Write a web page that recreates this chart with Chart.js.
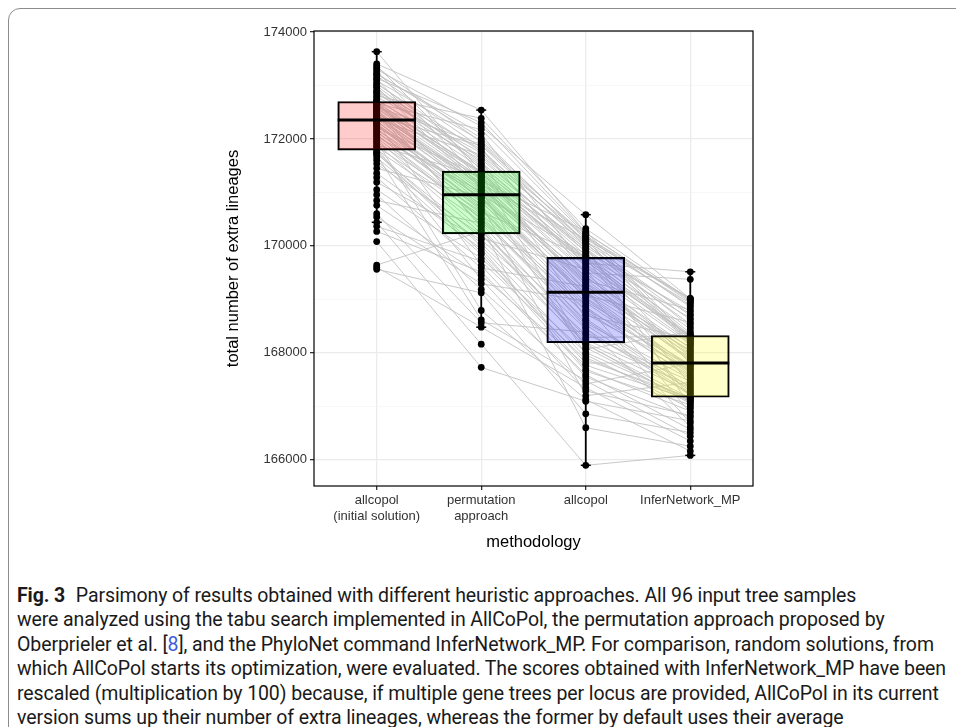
<!DOCTYPE html>
<html>
<head>
<meta charset="utf-8">
<script src="https://cdn.jsdelivr.net/npm/chart.js@4.4.1/dist/chart.umd.min.js"></script>
<style>
  html, body { margin: 0; padding: 0; background: #fff; }
  body { width: 956px; height: 727px; position: relative; overflow: hidden; }
  #frame { position: absolute; left: 8px; top: 8px; width: 1000px; height: 800px;
           border: 1px solid #8c8c8c; border-radius: 12px; box-sizing: border-box; }
  #plot { position: absolute; left: 0; top: 0; }
  #caption { position: absolute; left: 17px; top: 584px; font-family: Roboto, 'Noto Sans', sans-serif;
             font-size: 19.5px; line-height: 24.4px; color: #1a1a1a; white-space: nowrap; letter-spacing: -0.1px; }
  #caption b { font-weight: 700; margin-right: 6px; }
  #caption .ref { color: #3b5bdb; }
</style>
</head>
<body>
<div id="frame"></div>
<canvas id="plot" width="956" height="560"></canvas>
<div id="caption">
  <div><b>Fig. 3</b> Parsimony of results obtained with different heuristic approaches. All 96 input tree samples</div>
  <div>were analyzed using the tabu search implemented in AllCoPol, the permutation approach proposed by</div>
  <div>Oberprieler et al. [<span class="ref">8</span>], and the PhyloNet command InferNetwork_MP. For comparison, random solutions, from</div>
  <div>which AllCoPol starts its optimization, were evaluated. The scores obtained with InferNetwork_MP have been</div>
  <div>rescaled (multiplication by 100) because, if multiple gene trees per locus are provided, AllCoPol in its current</div>
  <div>version sums up their number of extra lineages, whereas the former by default uses their average</div>
</div>
<script>
'use strict';
// one entry per input tree sample (96), same order in every array
const categories = [['allcopol', '(initial solution)'], ['permutation', 'approach'], 'allcopol', 'InferNetwork_MP'];

const initialSolution = [
  169560, 169600, 169640, 170080, 170270, 170365, 170440, 170540, 170602, 170757, 170850, 170956,
  171050, 171191, 171280, 171359, 171450, 171534, 171600, 171650, 171700, 171720, 171740, 171760,
  171800, 171830, 171855, 171885, 171910, 171945, 171960, 171990, 172025, 172040, 172075, 172090,
  172125, 172140, 172170, 172195, 172210, 172245, 172260, 172280, 172295, 172315, 172330, 172340,
  172368, 172375, 172395, 172415, 172420, 172445, 172455, 172475, 172490, 172500, 172525, 172530,
  172555, 172570, 172580, 172600, 172615, 172630, 172645, 172650, 172665, 172680, 172690, 172695,
  172720, 172745, 172790, 172805, 172850, 172880, 172895, 172940, 172975, 172990, 173030, 173045,
  173090, 173120, 173135, 173180, 173210, 173225, 173270, 173300, 173340, 173370, 173405, 173633
];
const permutationApproach = [
  169120, 168477, 170275, 167725, 169510, 169710, 168160, 169290, 168560, 169445, 170425, 169185,
  169765, 170115, 169585, 169945, 170925, 170205, 169840, 170045, 168615, 170145, 169885, 169995,
  170450, 169370, 170565, 171290, 170230, 170635, 168790, 170305, 170520, 171015, 170595, 170495,
  170775, 170695, 170910, 170660, 171300, 170945, 170755, 170880, 170715, 169630, 170810, 170865,
  171695, 170985, 171145, 170967, 171875, 171025, 171185, 170385, 171135, 171060, 171175, 171100,
  170350, 171225, 171365, 171895, 171335, 171265, 171390, 171255, 172175, 171385, 170825, 171360,
  171605, 171455, 171740, 172385, 171670, 171525, 171805, 171485, 171065, 171555, 171765, 171625,
  171965, 171105, 172305, 171835, 172095, 172015, 171215, 172235, 171940, 171415, 172540, 171325
];
const allcopol = [
  166855, 167345, 168445, 167090, 167590, 167865, 165892, 168965, 168385, 167765, 168285, 167415,
  168005, 168345, 169235, 167695, 169035, 168245, 167655, 168170, 167475, 169555, 167805, 167905,
  168725, 167285, 168475, 169755, 168095, 169795, 167125, 168190, 168605, 169355, 168805, 168525,
  167195, 168555, 168935, 168855, 169615, 169845, 168775, 169175, 168695, 167545, 169120, 169075,
  170085, 169095, 170125, 169015, 170075, 167965, 169375, 166595, 169255, 169435, 169315, 169295,
  168145, 169495, 169675, 170195, 169725, 169535, 169778, 169715, 170205, 169140, 168885, 169655,
  168635, 169760, 170030, 170322, 169885, 169825, 169995, 169895, 169195, 169985, 170165, 169935,
  170155, 169415, 170235, 169475, 169595, 170115, 170275, 170583, 170045, 169950, 170245, 168065
];
const inferNetworkMP = [
  166505, 166345, 167205, 166725, 166565, 167158, 166078, 167775, 167325, 167125, 168308, 167800,
  167130, 167465, 168105, 166905, 167705, 167385, 167025, 167045, 166438, 167168, 167812, 167085,
  167685, 166825, 166615, 168312, 167095, 168445, 166158, 167265, 167285, 168805, 167765, 167225,
  167445, 167505, 167625, 167525, 168318, 168330, 167565, 168045, 168265, 166785, 167735, 168565,
  168925, 167645, 169005, 167585, 168695, 166955, 167865, 166250, 167965, 167925, 168025, 167845,
  167150, 169372, 169514, 168855, 168225, 168155, 168290, 168295, 168185, 167905, 166685, 168270,
  167345, 167405, 168615, 168990, 167795, 168645, 166985, 168775, 166875, 168725, 169018, 168365,
  168885, 168085, 168975, 167985, 168195, 168145, 168235, 169010, 168485, 168535, 168945, 168390
];

const yTickLabels = [166000, 168000, 170000, 172000, 174000];
const yGridValues = [166000, 167000, 168000, 169000, 170000, 171000, 172000, 173000, 174000];

const columns = [initialSolution, permutationApproach, allcopol, inferNetworkMP];
const boxFills = ['rgba(255,0,0,0.2)', 'rgba(0,255,0,0.2)', 'rgba(0,0,255,0.2)', 'rgba(255,255,0,0.2)'];
const tickFont = { family: "'Liberation Sans', Arial, sans-serif", size: 13 };
const titleFont = { family: "'Liberation Sans', Arial, sans-serif", size: 16.5 };

function quantile(sorted, p) {
  const h = (sorted.length - 1) * p;
  const lo = Math.floor(h);
  const hi = Math.min(lo + 1, sorted.length - 1);
  return sorted[lo] + (h - lo) * (sorted[hi] - sorted[lo]);
}

const stats = columns.map(col => {
  const s = [...col].sort((a, b) => a - b);
  const q1 = quantile(s, 0.25), med = quantile(s, 0.5), q3 = quantile(s, 0.75);
  const iqr = q3 - q1;
  const lo = s.find(v => v >= q1 - 1.5 * iqr);
  const hi = [...s].reverse().find(v => v <= q3 + 1.5 * iqr);
  return { q1, med, q3, lo, hi };
});

const pairLines = initialSolution.map((v, i) => ({
  type: 'line',
  data: columns.map((col, c) => ({ x: c + 1, y: col[i] })),
  borderColor: '#c2c2c2',
  borderWidth: 0.9,
  pointRadius: 0,
  order: 3,
}));

const pointSet = {
  type: 'line',
  showLine: false,
  data: columns.flatMap((col, c) => col.map(v => ({ x: c + 1, y: v }))),
  pointRadius: 3.4,
  pointBackgroundColor: '#000',
  pointBorderColor: '#000',
  pointBorderWidth: 0,
  order: 2,
};

const boxSet = {
  type: 'bar',
  data: stats.map((s, c) => ({ x: c + 1, y: [s.q1, s.q3] })),
  backgroundColor: boxFills,
  borderColor: '#000',
  borderWidth: 1.5,
  borderSkipped: false,
  barThickness: 78,
  order: 1,
};

const boxDetails = {
  id: 'boxDetails',
  afterDatasetsDraw(chart) {
    const { ctx, scales: { x, y } } = chart;
    ctx.save();
    ctx.strokeStyle = '#000';
    stats.forEach((s, c) => {
      const px = x.getPixelForValue(c + 1);
      ctx.lineWidth = 1.8;
      ctx.beginPath();
      ctx.moveTo(px, y.getPixelForValue(s.q3));
      ctx.lineTo(px, y.getPixelForValue(s.hi));
      ctx.moveTo(px, y.getPixelForValue(s.q1));
      ctx.lineTo(px, y.getPixelForValue(s.lo));
      ctx.stroke();
      ctx.lineWidth = 1.5;
      [s.hi, s.lo].forEach(v => {
        const py = y.getPixelForValue(v);
        ctx.beginPath();
        ctx.moveTo(px - 5, py);
        ctx.lineTo(px + 5, py);
        ctx.stroke();
      });
      ctx.lineWidth = 3;
      const pm = y.getPixelForValue(s.med);
      ctx.beginPath();
      ctx.moveTo(px - 39, pm);
      ctx.lineTo(px + 39, pm);
      ctx.stroke();
    });
    ctx.restore();
  },
  afterDraw(chart) {
    const { ctx, chartArea: a } = chart;
    ctx.save();
    ctx.strokeStyle = '#000';
    ctx.lineWidth = 1.2;
    ctx.strokeRect(a.left, a.top, a.right - a.left, a.bottom - a.top);
    ctx.restore();
  },
};

const isMajor = c => c.tick && yTickLabels.includes(c.tick.value);

new Chart(document.getElementById('plot').getContext('2d'), {
  data: { datasets: [...pairLines, pointSet, boxSet] },
  options: {
    responsive: false,
    animation: false,
    layout: { padding: { top: 31, right: 203, bottom: 0, left: 0 } },
    plugins: { legend: { display: false }, tooltip: { enabled: false } },
    scales: {
      x: {
        type: 'linear',
        min: 0.4,
        max: 4.6,
        offset: false,
        afterBuildTicks: s => { s.ticks = categories.map((_, i) => ({ value: i + 1 })); },
        afterFit: s => { s.height = 74; },
        ticks: { callback: v => categories[Math.round(v) - 1], autoSkip: false, maxRotation: 0,
                 color: '#333', font: tickFont, padding: 3 },
        grid: { offset: false, color: '#ebebeb', lineWidth: 1.3, tickLength: 4, tickColor: '#333' },
        border: { display: false },
        title: { display: true, text: 'methodology', color: '#000', font: titleFont,
                 padding: { top: 0, bottom: 8 } },
      },
      y: {
        min: 165505,
        max: 174020,
        afterBuildTicks: s => { s.ticks = yGridValues.map(v => ({ value: v })); },
        afterFit: s => { s.width = 314; },
        ticks: { callback: v => yTickLabels.includes(v) ? String(v) : '', color: '#333',
                 font: tickFont, padding: 3 },
        grid: {
          color: c => isMajor(c) ? '#ebebeb' : '#f4f4f4',
          lineWidth: c => isMajor(c) ? 1.3 : 0.7,
          tickLength: 4,
          tickColor: c => isMajor(c) ? '#333' : 'rgba(0,0,0,0)',
        },
        border: { display: false },
        title: { display: true, text: 'total number of extra lineages', color: '#000', font: titleFont,
                 padding: { top: 224, bottom: 0 } },
      },
    },
  },
  plugins: [boxDetails],
});
</script>
</body>
</html>
